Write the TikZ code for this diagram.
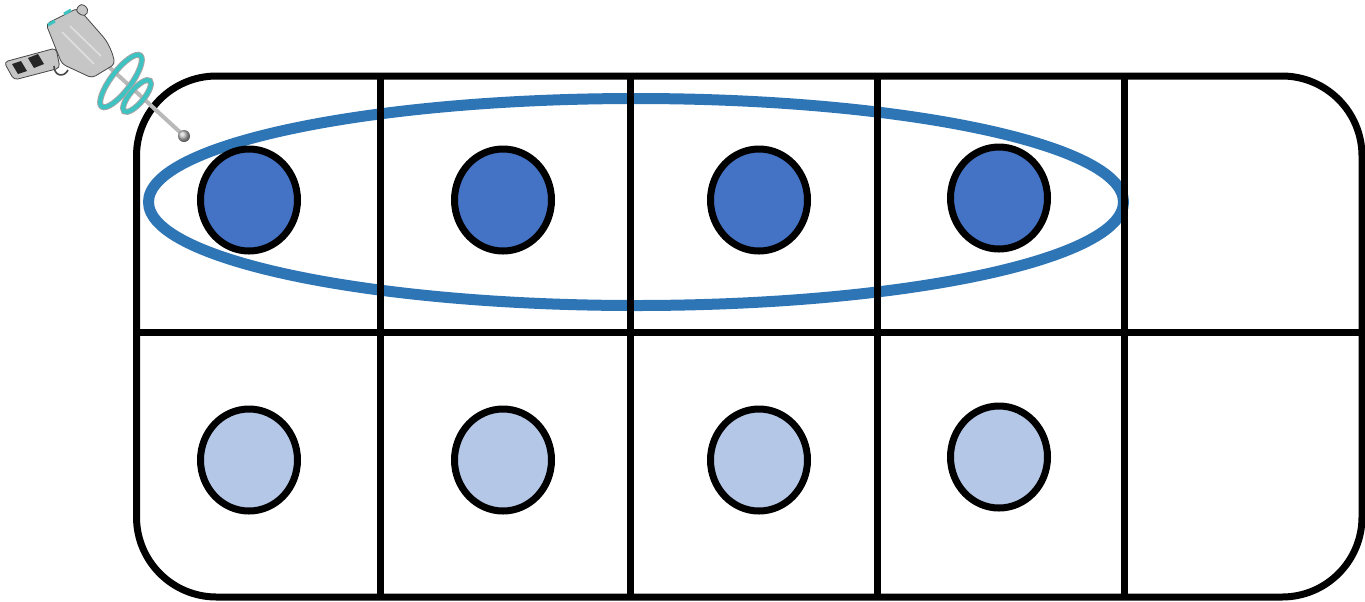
\documentclass[tikz,border=0pt]{standalone}
\usepackage{tikz}
\usetikzlibrary{shapes.geometric}

\definecolor{bluscuro}{HTML}{4472C4}
\definecolor{bluchiaro}{HTML}{B4C7E7}
\definecolor{bluanello}{HTML}{2E75B6}
\definecolor{acqua}{HTML}{3EC3C3}

\begin{document}
\begin{tikzpicture}[x=0.5pt,y=-0.5pt,
    griglia/.style={line width=3.5pt},
    pallino/.style={ellipse,draw,line width=3.5pt,minimum width=48.5pt,minimum height=51pt,inner sep=0pt},
    metallo/.style={fill=gray!45,draw=gray!55!black,line width=0.4pt,rounded corners=2pt},
    anellino/.style={draw=acqua,line width=2pt}]
        \useasboundingbox (0,0) rectangle (1365,601);

        % Gruppo di quattro
        \node[ellipse,draw=bluanello,line width=5.5pt,minimum width=487.5pt,minimum height=103.5pt] (gruppo) at (636,202) {};

        % Cornice
        \draw[griglia,rounded corners=40pt] (136.5,76) rectangle (1362,597);
        \draw[griglia] (380,76) -- (380,597);
        \draw[griglia] (630,76) -- (630,597);
        \draw[griglia] (877,76) -- (877,597);
        \draw[griglia] (1124,76) -- (1124,597);
        \draw[griglia] (136.5,332) -- (1362,332); % riga di mezzo

        % Pallini sopra
        \node[pallino,fill=bluscuro] (s1) at (249,200) {};
        \node[pallino,fill=bluscuro] (s2) at (503,200) {};
        \node[pallino,fill=bluscuro] (s3) at (759,200) {};
        \node[pallino,fill=bluscuro] (s4) at (999,198) {};

        % Pallini sotto
        \node[pallino,fill=bluchiaro] (g1) at (249,460) {};
        \node[pallino,fill=bluchiaro] (g2) at (503,460) {};
        \node[pallino,fill=bluchiaro] (g3) at (759,460) {};
        \node[pallino,fill=bluchiaro] (g4) at (999,457) {};

        % Pistola
        \draw[gray!55,line width=2pt] (108,66) -- (182,134); % asta
        \shade[ball color=gray!50] (184,136) circle (6);
        \filldraw[metallo] (4,62) -- (14,80) -- (60,68) -- (56,48) -- cycle; % impugnatura
        \fill[gray!30!black] (12,64) -- (18,74) -- (27,71) -- (21,61) -- cycle;
        \fill[gray!30!black] (28,58) -- (34,68) -- (44,64) -- (38,54) -- cycle;
        \draw[gray!55!black,line width=0.8pt] (54,66) .. controls (54,76) and (64,78) .. (68,70);
        \filldraw[metallo] (46,24) -- (78,8) -- (106,40) -- (112,52) -- (115,64) -- (92,78) -- (62,64) -- cycle;
        \filldraw[metallo] (75,11) -- (81,3) -- (89,9) -- (85,17) -- cycle;
        \draw[acqua,line width=1.5pt] (48,25) -- (55,21);
        \draw[acqua,line width=1.5pt] (64,14) -- (71,10);
        \draw[gray!25,line width=0.8pt] (62,32) -- (94,64);
        \draw[gray!25,line width=0.8pt] (70,26) -- (101,56);
        \draw[gray!70,line width=3pt,rotate around={53:(121,81)}] (121,81) ellipse [x radius=32, y radius=10];
        \draw[anellino,rotate around={53:(121,81)}] (121,81) ellipse [x radius=32, y radius=10];
        \draw[gray!70,line width=3pt,rotate around={50:(137,96)}] (137,96) ellipse [x radius=20, y radius=7];
        \draw[anellino,rotate around={50:(137,96)}] (137,96) ellipse [x radius=20, y radius=7];
    \end{tikzpicture}
\end{document}
